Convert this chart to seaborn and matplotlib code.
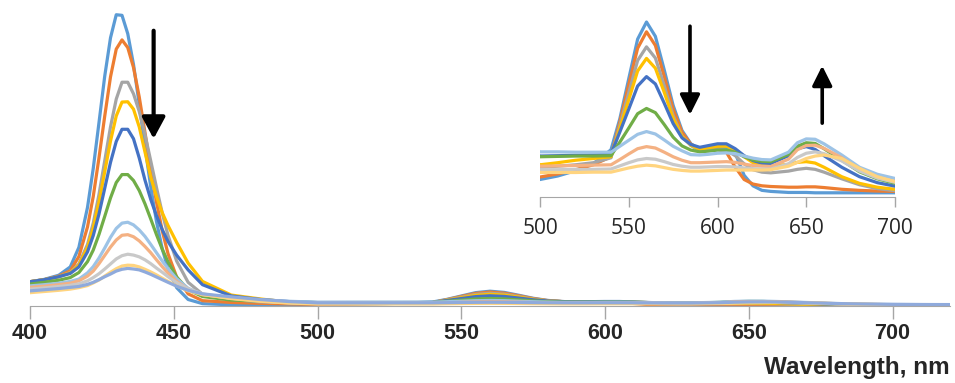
import numpy as np
import pandas as pd
import seaborn as sns
import matplotlib
matplotlib.use("Agg")
import matplotlib.pyplot as plt

# wavelength grid (nm): Soret region, then Q-band region
wl = [400, 405, 410, 414, 417, 420, 422, 424, 426, 428, 430, 432, 434, 436, 438, 440, 442, 444, 446, 448, 451, 455, 460, 470, 480, 490,
      500, 510, 520, 530, 540, 545, 550, 555, 560, 565, 570, 575, 580, 585, 590, 595, 600, 605, 610, 615,
      620, 625, 630, 640, 645, 650, 655, 660, 670, 680, 690, 700, 710, 720]

# absorbance of each scan
a1 = [0.082, 0.090, 0.104, 0.132, 0.198, 0.333, 0.465, 0.620, 0.777, 0.906, 0.984, 0.982, 0.920, 0.816, 0.682, 0.538, 0.402, 0.285, 0.193, 0.126, 0.062, 0.022, 0.008, 0.004, 0.004, 0.0045,
      0.0050, 0.0060, 0.0075, 0.0095, 0.0135, 0.0224, 0.0338, 0.0451, 0.0500, 0.0459, 0.0363, 0.0262, 0.0190, 0.0152, 0.0135, 0.0138, 0.0140, 0.0142, 0.0125, 0.0062,
      0.0032, 0.0019, 0.0016, 0.0013, 0.0013, 0.0013, 0.0012, 0.0012, 0.0012, 0.0012, 0.0012, 0.0012, 0.0012, 0.0012]
a2 = [0.082, 0.089, 0.101, 0.119, 0.167, 0.267, 0.370, 0.501, 0.642, 0.774, 0.868, 0.899, 0.873, 0.806, 0.706, 0.586, 0.464, 0.351, 0.254, 0.177, 0.098, 0.041, 0.018, 0.012, 0.009, 0.007,
      0.0057, 0.0066, 0.0078, 0.0092, 0.0115, 0.0215, 0.0321, 0.0425, 0.0472, 0.0433, 0.0344, 0.0251, 0.0185, 0.0151, 0.0135, 0.0137, 0.0137, 0.0128, 0.0085, 0.0050,
      0.0037, 0.0032, 0.0030, 0.0028, 0.0028, 0.0029, 0.0029, 0.0027, 0.0022, 0.0019, 0.0017, 0.0016, 0.0016, 0.0016]
a3 = [0.082, 0.089, 0.099, 0.113, 0.142, 0.208, 0.280, 0.377, 0.491, 0.605, 0.699, 0.756, 0.756, 0.717, 0.657, 0.579, 0.490, 0.400, 0.314, 0.239, 0.152, 0.080, 0.040, 0.022, 0.014, 0.011,
      0.0085, 0.0088, 0.0092, 0.0098, 0.0112, 0.0205, 0.0298, 0.0390, 0.0429, 0.0397, 0.0318, 0.0233, 0.0174, 0.0147, 0.0132, 0.0134, 0.0135, 0.0133, 0.0118, 0.0095,
      0.0078, 0.0071, 0.0069, 0.0074, 0.0079, 0.0082, 0.0079, 0.0071, 0.0052, 0.0035, 0.0024, 0.0018, 0.0016, 0.0015]
a4 = [0.082, 0.089, 0.099, 0.112, 0.138, 0.198, 0.264, 0.351, 0.454, 0.557, 0.642, 0.689, 0.690, 0.665, 0.605, 0.520, 0.435, 0.370, 0.315, 0.272, 0.215, 0.145, 0.083, 0.037, 0.024, 0.013,
      0.0092, 0.0098, 0.0105, 0.0110, 0.0115, 0.0197, 0.0278, 0.0360, 0.0396, 0.0368, 0.0299, 0.0225, 0.0173, 0.0148, 0.0136, 0.0141, 0.0145, 0.0145, 0.0135, 0.0115,
      0.0098, 0.0091, 0.0089, 0.0093, 0.0099, 0.0101, 0.0097, 0.0085, 0.0058, 0.0039, 0.0028, 0.0022, 0.0020, 0.0019]
a5 = [0.082, 0.089, 0.099, 0.110, 0.132, 0.183, 0.238, 0.311, 0.398, 0.485, 0.556, 0.597, 0.597, 0.565, 0.500, 0.425, 0.360, 0.305, 0.258, 0.218, 0.172, 0.122, 0.072, 0.034, 0.022, 0.015,
      0.0117, 0.0118, 0.0119, 0.0120, 0.0122, 0.0186, 0.0251, 0.0317, 0.0344, 0.0323, 0.0268, 0.0210, 0.0169, 0.0150, 0.0142, 0.0147, 0.0152, 0.0152, 0.0138, 0.0118,
      0.0104, 0.0097, 0.0096, 0.0118, 0.0138, 0.0144, 0.0136, 0.0118, 0.0085, 0.0058, 0.0041, 0.0031, 0.0028, 0.0026]
a6 = [0.074, 0.080, 0.087, 0.096, 0.113, 0.150, 0.189, 0.242, 0.303, 0.365, 0.417, 0.444, 0.444, 0.424, 0.390, 0.345, 0.294, 0.241, 0.192, 0.149, 0.098, 0.055, 0.032, 0.020, 0.017, 0.014,
      0.0115, 0.0116, 0.0117, 0.0117, 0.0118, 0.0157, 0.0197, 0.0238, 0.0253, 0.0241, 0.0207, 0.0171, 0.0146, 0.0134, 0.0129, 0.0131, 0.0134, 0.0134, 0.0128, 0.0115,
      0.0106, 0.0102, 0.0101, 0.0122, 0.0145, 0.0155, 0.0153, 0.0138, 0.0105, 0.0072, 0.0052, 0.0039, 0.0035, 0.0033]
a7 = [0.068, 0.072, 0.077, 0.083, 0.091, 0.112, 0.133, 0.162, 0.196, 0.232, 0.262, 0.280, 0.283, 0.274, 0.257, 0.235, 0.208, 0.180, 0.152, 0.126, 0.092, 0.060, 0.039, 0.026, 0.020, 0.016,
      0.0129, 0.0129, 0.0128, 0.0128, 0.0128, 0.0145, 0.0162, 0.0179, 0.0187, 0.0180, 0.0163, 0.0145, 0.0132, 0.0121, 0.0120, 0.0122, 0.0125, 0.0126, 0.0124, 0.0117,
      0.0111, 0.0107, 0.0106, 0.0128, 0.0155, 0.0166, 0.0165, 0.0152, 0.0120, 0.0085, 0.0065, 0.0053, 0.0048, 0.0045]
a8 = [0.063, 0.067, 0.072, 0.077, 0.085, 0.101, 0.118, 0.143, 0.171, 0.199, 0.223, 0.239, 0.241, 0.234, 0.220, 0.201, 0.180, 0.156, 0.133, 0.111, 0.083, 0.057, 0.038, 0.027, 0.019, 0.013,
      0.0088, 0.0089, 0.0090, 0.0091, 0.0092, 0.0107, 0.0123, 0.0138, 0.0144, 0.0140, 0.0128, 0.0115, 0.0105, 0.0098, 0.0098, 0.0099, 0.0100, 0.0101, 0.0099, 0.0094,
      0.0090, 0.0088, 0.0087, 0.0108, 0.0135, 0.0147, 0.0148, 0.0139, 0.0112, 0.0078, 0.0056, 0.0044, 0.0040, 0.0038]
a9 = [0.057, 0.061, 0.066, 0.070, 0.075, 0.085, 0.096, 0.109, 0.125, 0.142, 0.159, 0.170, 0.175, 0.172, 0.166, 0.156, 0.143, 0.128, 0.114, 0.099, 0.079, 0.058, 0.041, 0.026, 0.017, 0.011,
      0.0078, 0.0078, 0.0079, 0.0079, 0.0080, 0.0089, 0.0098, 0.0106, 0.0110, 0.0108, 0.0101, 0.0093, 0.0088, 0.0085, 0.0085, 0.0086, 0.0087, 0.0087, 0.0086, 0.0083,
      0.0081, 0.0080, 0.0080, 0.0095, 0.0113, 0.0125, 0.0129, 0.0124, 0.0103, 0.0074, 0.0054, 0.0042, 0.0038, 0.0036]
a10 = [0.045, 0.049, 0.053, 0.057, 0.062, 0.069, 0.078, 0.088, 0.101, 0.114, 0.126, 0.135, 0.138, 0.137, 0.132, 0.124, 0.115, 0.105, 0.094, 0.083, 0.068, 0.051, 0.039, 0.025, 0.016, 0.010,
       0.0070, 0.0070, 0.0070, 0.0071, 0.0071, 0.0077, 0.0083, 0.0088, 0.0091, 0.0089, 0.0084, 0.0079, 0.0076, 0.0074, 0.0074, 0.0075, 0.0076, 0.0077, 0.0077, 0.0077,
       0.0077, 0.0077, 0.0078, 0.0088, 0.0099, 0.0110, 0.0117, 0.0120, 0.0110, 0.0082, 0.0058, 0.0044, 0.0040, 0.0037]
a11 = [0.051, 0.055, 0.059, 0.063, 0.066, 0.073, 0.080, 0.089, 0.099, 0.108, 0.118, 0.124, 0.127, 0.125, 0.122, 0.115, 0.107, 0.098, 0.089, 0.080, 0.067, 0.053, 0.041, 0.031, 0.022, 0.015,
       0.0105, 0.0105, 0.0105, 0.0106, 0.0107, 0.0112, 0.0118, 0.0124, 0.0127, 0.0125, 0.0119, 0.0113, 0.0109, 0.0107, 0.0106, 0.0107, 0.0108, 0.0108, 0.0107, 0.0104,
       0.0101, 0.0100, 0.0100, 0.0112, 0.0128, 0.0138, 0.0140, 0.0134, 0.0112, 0.0085, 0.0066, 0.0055, 0.0050, 0.0048]

scans = [a1, a2, a3, a4, a5, a6, a7, a8, a9, a10, a11]
names = ["s%d" % (i + 1) for i in range(len(scans))]
colors = ["#5B9BD5", "#ED7D31", "#A5A5A5", "#FFC000", "#4472C4", "#70AD47",
          "#9DC3E6", "#F4B183", "#C9C9C9", "#FFD47F", "#8FAADC"]
xticks = [400, 450, 500, 550, 600, 650, 700]
inset_ticks = [500, 550, 600, 650, 700]

df = pd.DataFrame({
    "wl": np.tile(wl, len(scans)),
    "A": np.concatenate(scans),
    "scan": np.repeat(names, len(wl)),
})

sns.set_style("white")
plt.rcParams["font.family"] = ["Liberation Sans", "DejaVu Sans"]
axis_grey = "#A6A6A6"

fig = plt.figure(figsize=(9.55, 3.83), dpi=100)

# main spectrum
ax = fig.add_axes([30 / 955, 77 / 383, 920 / 955, 296 / 383])
sns.lineplot(data=df, x="wl", y="A", hue="scan", palette=colors, estimator=None,
             legend=False, linewidth=2.3, solid_joinstyle="round", ax=ax)
ax.set_xlim(400, 720)
ax.set_ylim(0, 1.0)
ax.set_yticks([])
ax.set_ylabel("")
ax.set_xticks(xticks)
for s in ["left", "top", "right"]:
    ax.spines[s].set_visible(False)
ax.spines["bottom"].set_color(axis_grey)
ax.tick_params(axis="x", direction="out", length=9, width=1, color=axis_grey, pad=3,
               labelsize=15.5, bottom=True)
for lab in ax.get_xticklabels():
    lab.set_fontweight("bold")
ax.set_xlabel("Wavelength, nm", loc="right", fontsize=17.5, fontweight="bold", labelpad=9)
ax.annotate("", xy=(443, 0.565), xytext=(443, 0.93),
            arrowprops=dict(arrowstyle="-|>,head_width=0.35,head_length=0.65",
                            lw=3, color="black", mutation_scale=20, shrinkA=0, shrinkB=0))

# inset: Q-band region
ins = fig.add_axes([540 / 955, 186 / 383, 355 / 955, 182 / 383])
ins.patch.set_alpha(0)
sns.lineplot(data=df[df.scan != "s11"], x="wl", y="A", hue="scan", palette=colors[:10],
             estimator=None, legend=False, linewidth=2.3, solid_joinstyle="round", ax=ins)
ins.set_xlim(500, 700)
ins.set_ylim(0, 0.052)
ins.set_yticks([])
ins.set_xlabel("")
ins.set_ylabel("")
ins.set_xticks(inset_ticks)
for s in ["left", "top", "right"]:
    ins.spines[s].set_visible(False)
ins.spines["bottom"].set_color(axis_grey)
ins.tick_params(axis="x", direction="out", length=7, width=1, color=axis_grey, pad=8,
                labelsize=15, bottom=True)
for lab in ins.get_xticklabels():
    lab.set_fontfamily(["Open Sans", "DejaVu Sans"])
arrow = dict(arrowstyle="-|>,head_width=0.3,head_length=0.6", lw=2.6, color="black",
             mutation_scale=20, shrinkA=0, shrinkB=0)
ins.annotate("", xy=(584.5, 0.0235), xytext=(584.5, 0.0488), arrowprops=arrow)
ins.annotate("", xy=(659, 0.0375), xytext=(659, 0.0211), arrowprops=arrow)

fig.savefig("out.png", dpi=100)
